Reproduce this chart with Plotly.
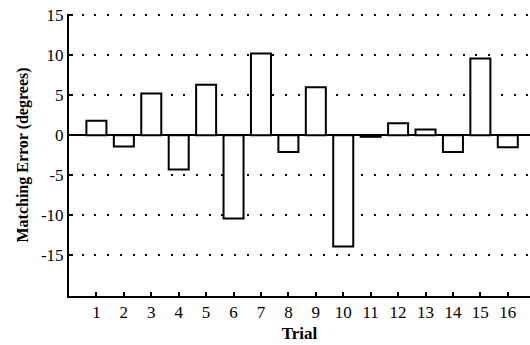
import plotly.graph_objects as go

trials = list(range(1, 17))
errors = [1.8, -1.4, 5.2, -4.3, 6.3, -10.4, 10.2, -2.1, 6.0, -13.9, -0.2, 1.5, 0.7, -2.1, 9.6, -1.5]
y_tickvals = [15, 10, 5, 0, -5, -10, -15]
y_ticktext = ["15", "10", "5", "0", "-5", "-10", "-15"]

font_family = "Liberation Serif"

fig = go.Figure(go.Bar(
    x=trials, y=errors, width=0.73,
    marker=dict(color="white", line=dict(color="black", width=2)),
))

fig.update_layout(
    width=530, height=345,
    margin=dict(l=69, r=0, t=14, b=49),
    paper_bgcolor="white", plot_bgcolor="white",
    showlegend=False,
    font=dict(family=font_family, size=17, color="black"),
)
fig.update_xaxes(
    range=[0, 16.81], tickvals=trials, ticktext=[str(t) for t in trials],
    tickfont=dict(size=17, color="black", family=font_family),
    showgrid=False, zeroline=False,
    showline=True, linecolor="black", linewidth=2,
    ticks="inside", ticklen=4, tickwidth=1.5, tickcolor="black",
    title=dict(text="<b>Trial</b>", font=dict(size=17, family=font_family, color="black"), standoff=6),
)
fig.update_yaxes(
    range=[-20.1, 15.15], tickvals=y_tickvals, ticktext=y_ticktext,
    tickfont=dict(size=17, color="black", family=font_family),
    showgrid=True, gridcolor="black", gridwidth=2, griddash="2px,10.7px",
    zeroline=True, zerolinecolor="black", zerolinewidth=2,
    showline=True, linecolor="black", linewidth=2,
    ticks="inside", ticklen=4, tickwidth=1.5, tickcolor="black",
    title=dict(text="<b>Matching Error (degrees)</b>", font=dict(size=16, family=font_family, color="black"), standoff=8),
)

fig.write_html("out.html")
